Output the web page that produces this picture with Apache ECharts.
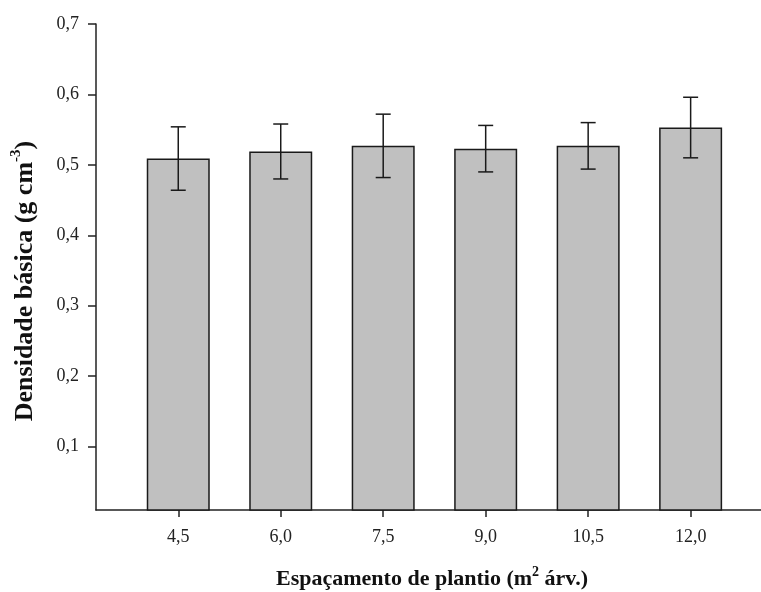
<!DOCTYPE html>
<html>
<head>
<meta charset="utf-8">
<script src="https://cdn.jsdelivr.net/npm/echarts@6/dist/echarts.min.js"></script>
<style>
  html, body { margin: 0; padding: 0; background: #fff; }
  #chart { width: 761px; height: 592px; }
</style>
</head>
<body>
<div id="chart"></div>
<script>
// Planting spacing (m² per tree) and mean basic density (g cm⁻³) with standard deviation
const spacings = [4.5, 6.0, 7.5, 9.0, 10.5, 12.0];
const density = [0.509, 0.519, 0.527, 0.523, 0.527, 0.553];
const deviation = [0.045, 0.039, 0.045, 0.033, 0.033, 0.043];
const yTicks = [0.1, 0.2, 0.3, 0.4, 0.5, 0.6, 0.7];

const fmt = (v, d) => v.toFixed(d).replace('.', ',');
const serif = '"Liberation Serif", "Times New Roman", serif';
const ink = '#222';

const barData = spacings.map((x, i) => [x, density[i]]);
const errData = spacings.map((x, i) => [x, density[i] - deviation[i], density[i] + deviation[i]]);

const chart = echarts.init(document.getElementById('chart'));
chart.setOption({
  animation: false,
  backgroundColor: '#fff',
  grid: { left: 96, right: 0, top: 24, bottom: 82, containLabel: false },
  xAxis: {
    type: 'value',
    min: 3.296,
    max: 13.03,
    splitLine: { show: false },
    axisLine: { onZero: false, lineStyle: { color: ink, width: 1.5 } },
    axisTick: { show: true, length: 7, inside: false, customValues: spacings,
                lineStyle: { color: ink, width: 1.5 } },
    axisLabel: { customValues: spacings, margin: 18, color: '#222',
                 fontFamily: serif, fontSize: 18, formatter: v => fmt(v, 1) }
  },
  yAxis: {
    type: 'value',
    min: 0.01,
    max: 0.7,
    splitLine: { show: false },
    axisLine: { show: true, lineStyle: { color: ink, width: 1.5 } },
    axisTick: { show: true, length: 8, customValues: yTicks,
                lineStyle: { color: ink, width: 1.5 } },
    axisLabel: { customValues: yTicks, margin: 17, color: '#222',
                 fontFamily: serif, fontSize: 18, formatter: v => fmt(v, 1) }
  },
  series: [
    {
      type: 'bar',
      data: barData,
      barWidth: 63,
      itemStyle: { color: '#c0c0c0', borderColor: '#1a1a1a', borderWidth: 1.5 }
    },
    {
      type: 'custom',
      data: errData,
      encode: { x: 0, y: [1, 2] },
      z: 5,
      renderItem: function (params, api) {
        const x = api.value(0);
        const lo = api.coord([x, api.value(1)]);
        const hi = api.coord([x, api.value(2)]);
        const half = 7.5;
        const style = { stroke: '#1a1a1a', lineWidth: 1.5 };
        return {
          type: 'group',
          children: [
            { type: 'line', shape: { x1: lo[0], y1: lo[1], x2: hi[0], y2: hi[1] }, style },
            { type: 'line', shape: { x1: hi[0] - half, y1: hi[1], x2: hi[0] + half, y2: hi[1] }, style },
            { type: 'line', shape: { x1: lo[0] - half, y1: lo[1], x2: lo[0] + half, y2: lo[1] }, style }
          ]
        };
      }
    }
  ],
  graphic: [
    {
      type: 'text',
      x: 432,
      y: 579,
      style: {
        align: 'center',
        verticalAlign: 'middle',
        rich: {
          t: { fontFamily: serif, fontWeight: 'bold', fontSize: 22, lineHeight: 28, fill: '#111' },
          s: { fontFamily: serif, fontWeight: 'bold', fontSize: 14, lineHeight: 14, verticalAlign: 'top', fill: '#111' }
        },
        text: '{t|Espaçamento de plantio (m}{s|2}{t| árv.)}'
      }
    },
    {
      type: 'text',
      x: 25,
      y: 281,
      rotation: Math.PI / 2,
      style: {
        align: 'center',
        verticalAlign: 'middle',
        rich: {
          t: { fontFamily: serif, fontWeight: 'bold', fontSize: 26, lineHeight: 32, fill: '#111' },
          s: { fontFamily: serif, fontWeight: 'bold', fontSize: 15, lineHeight: 20, verticalAlign: 'top', fill: '#111' }
        },
        text: '{t|Densidade básica (g cm}{s|-3}{t|)}'
      }
    }
  ]
});
</script>
</body>
</html>
